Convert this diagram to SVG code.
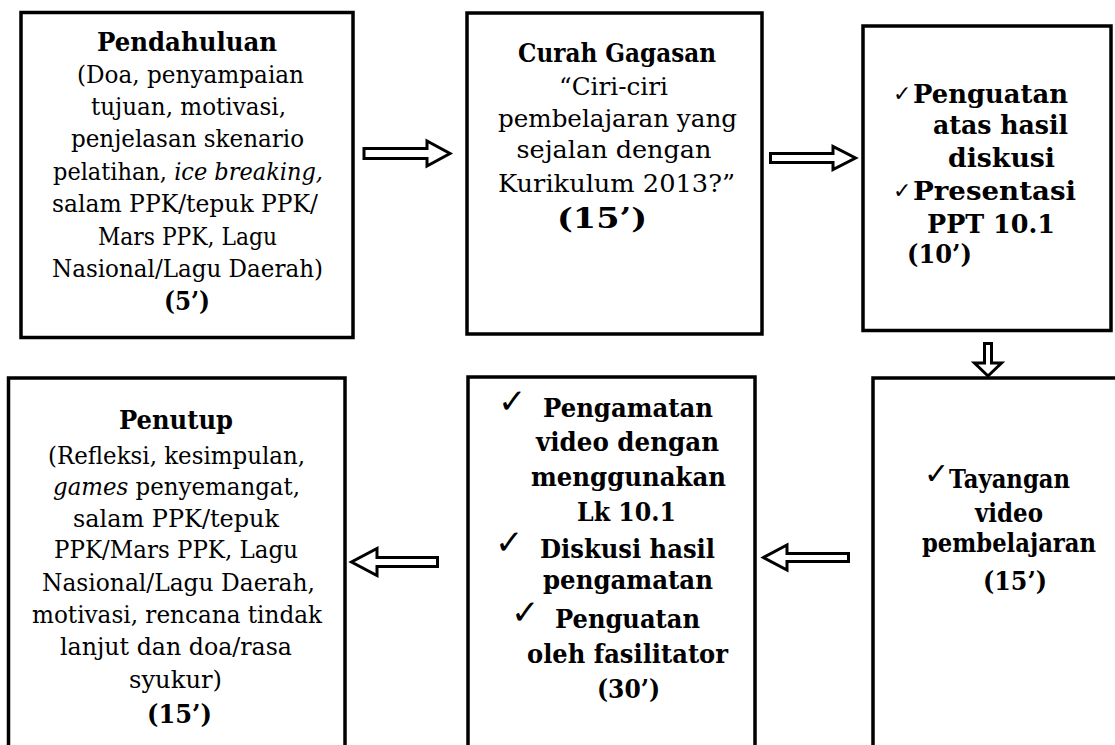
<svg xmlns="http://www.w3.org/2000/svg" width="1115" height="745" viewBox="0 0 1115 745">
<style>
.box{fill:#fff;stroke:#000;stroke-width:3.5}
.arr{fill:#fff;stroke:#000;stroke-width:3;stroke-linejoin:miter}
text{font-family:"DejaVu Serif","Liberation Serif",serif;fill:#000;font-size:24px}
.c{text-anchor:middle}
.b{font-weight:bold;font-size:26px}
.i{font-style:italic}
.ck{font-family:"DejaVu Sans","Liberation Sans",sans-serif;font-size:34px}
.ck3{font-family:"DejaVu Sans","Liberation Sans",sans-serif;font-size:22px}
</style>
<rect width="1115" height="745" fill="#fff"/>
<g id="n1">
<rect class="box" x="21" y="12.5" width="332" height="325"/>
<text class="c b" x="187" y="51" textLength="180" lengthAdjust="spacingAndGlyphs">Pendahuluan</text>
<text class="c" x="190.5" y="83" textLength="227" lengthAdjust="spacingAndGlyphs">(Doa, penyampaian</text>
<text class="c" x="188.5" y="115" textLength="195" lengthAdjust="spacingAndGlyphs">tujuan, motivasi,</text>
<text class="c" x="187.5" y="147" textLength="233" lengthAdjust="spacingAndGlyphs">penjelasan skenario</text>
<text class="c" x="188" y="180" textLength="270" lengthAdjust="spacingAndGlyphs">pelatihan, <tspan class="i">ice breaking,</tspan></text>
<text class="c" x="185" y="212" textLength="266" lengthAdjust="spacingAndGlyphs">salam PPK/tepuk PPK/</text>
<text class="c" x="187.5" y="245" textLength="179" lengthAdjust="spacingAndGlyphs">Mars PPK, Lagu</text>
<text class="c" x="187.5" y="277" textLength="271" lengthAdjust="spacingAndGlyphs">Nasional/Lagu Daerah)</text>
<text class="c b" x="187" y="310" textLength="46" lengthAdjust="spacingAndGlyphs">(5’)</text>
</g>
<g id="n2">
<rect class="box" x="467" y="13" width="295" height="321"/>
<text class="c b" x="617" y="62" textLength="198" lengthAdjust="spacingAndGlyphs">Curah Gagasan</text>
<text class="c" x="613.5" y="95" style="font-size:25px" textLength="109" lengthAdjust="spacingAndGlyphs">“Ciri-ciri</text>
<text class="c" x="617.5" y="127" style="font-size:25px" textLength="239" lengthAdjust="spacingAndGlyphs">pembelajaran yang</text>
<text class="c" x="614" y="158" style="font-size:25px" textLength="195" lengthAdjust="spacingAndGlyphs">sejalan dengan</text>
<text class="c" x="616.5" y="192" style="font-size:25px" textLength="237" lengthAdjust="spacingAndGlyphs">Kurikulum 2013?”</text>
<text class="c b" x="602" y="228" style="font-size:28px" textLength="90" lengthAdjust="spacingAndGlyphs">(15’)</text>
</g>
<g id="n3">
<rect class="box" x="863" y="26" width="248" height="304.5"/>
<text class="ck3" x="893" y="101">✓</text>
<text class="b" x="913" y="103" textLength="155" lengthAdjust="spacingAndGlyphs">Penguatan</text>
<text class="c b" x="1000.5" y="134" textLength="135" lengthAdjust="spacingAndGlyphs">atas hasil</text>
<text class="c b" x="1001.5" y="167" textLength="107" lengthAdjust="spacingAndGlyphs">diskusi</text>
<text class="ck3" x="893" y="198">✓</text>
<text class="b" x="913" y="200" textLength="163" lengthAdjust="spacingAndGlyphs">Presentasi</text>
<text class="c b" x="991" y="233" textLength="128" lengthAdjust="spacingAndGlyphs">PPT 10.1</text>
<text class="c b" x="939.5" y="263" textLength="65" lengthAdjust="spacingAndGlyphs">(10’)</text>
</g>
<g id="n4">
<rect class="box" x="873" y="378" width="300" height="420"/>
<text class="ck" x="924" y="484" style="font-size:30px">✓</text>
<text class="b" x="949" y="488" textLength="121" lengthAdjust="spacingAndGlyphs">Tayangan</text>
<text class="c b" x="1009" y="522" textLength="68" lengthAdjust="spacingAndGlyphs">video</text>
<text class="c b" x="1009" y="552" textLength="174" lengthAdjust="spacingAndGlyphs">pembelajaran</text>
<text class="c b" x="1015" y="590" textLength="64" lengthAdjust="spacingAndGlyphs">(15’)</text>
</g>
<g id="n5">
<rect class="box" x="468" y="377" width="287" height="420"/>
<text class="ck" x="498" y="413">✓</text>
<text class="c b" x="628" y="417" textLength="170" lengthAdjust="spacingAndGlyphs">Pengamatan</text>
<text class="c b" x="627.5" y="451" textLength="183" lengthAdjust="spacingAndGlyphs">video dengan</text>
<text class="c b" x="628.5" y="486" textLength="195" lengthAdjust="spacingAndGlyphs">menggunakan</text>
<text class="c b" x="626.5" y="521" textLength="99" lengthAdjust="spacingAndGlyphs">Lk 10.1</text>
<text class="ck" x="495" y="554">✓</text>
<text class="c b" x="627.5" y="558" textLength="175" lengthAdjust="spacingAndGlyphs">Diskusi hasil</text>
<text class="c b" x="628" y="589" textLength="170" lengthAdjust="spacingAndGlyphs">pengamatan</text>
<text class="ck" x="511" y="624">✓</text>
<text class="c b" x="627.5" y="628" textLength="145" lengthAdjust="spacingAndGlyphs">Penguatan</text>
<text class="c b" x="627.5" y="663" textLength="201" lengthAdjust="spacingAndGlyphs">oleh fasilitator</text>
<text class="c b" x="628.5" y="698" textLength="63" lengthAdjust="spacingAndGlyphs">(30’)</text>
</g>
<g id="n6">
<rect class="box" x="8.5" y="378" width="336.5" height="420"/>
<text class="c b" x="176" y="429" textLength="114" lengthAdjust="spacingAndGlyphs">Penutup</text>
<text class="c" x="176.5" y="464" textLength="257" lengthAdjust="spacingAndGlyphs">(Refleksi, kesimpulan,</text>
<text class="c" x="176.5" y="495" textLength="247" lengthAdjust="spacingAndGlyphs"><tspan class="i">games</tspan> penyemangat,</text>
<text class="c" x="176" y="527" textLength="206" lengthAdjust="spacingAndGlyphs">salam PPK/tepuk</text>
<text class="c" x="176" y="558" textLength="244" lengthAdjust="spacingAndGlyphs">PPK/Mars PPK, Lagu</text>
<text class="c" x="178.5" y="591" textLength="273" lengthAdjust="spacingAndGlyphs">Nasional/Lagu Daerah,</text>
<text class="c" x="177" y="623" textLength="290" lengthAdjust="spacingAndGlyphs">motivasi, rencana tindak</text>
<text class="c" x="176" y="655" textLength="232" lengthAdjust="spacingAndGlyphs">lanjut dan doa/rasa</text>
<text class="c" x="175.5" y="688" textLength="93" lengthAdjust="spacingAndGlyphs">syukur)</text>
<text class="c b" x="179.5" y="723" textLength="65" lengthAdjust="spacingAndGlyphs">(15’)</text>
</g>
<g id="connectors">
<polygon class="arr" points="364,148.5 427,148.5 427,141 450,153.5 427,166 427,158.5 364,158.5"/>
<polygon class="arr" points="770.5,153.5 833,153.5 833,146.5 855.5,158 833,169.5 833,162.5 770.5,162.5"/>
<polygon class="arr" points="984.5,343.5 991.5,343.5 991.5,363 1001.5,363 988,376 974.5,363 984.5,363"/>
<polygon class="arr" points="437.5,557.5 377,557.5 377,548.5 351.5,562 377,575.5 377,566.5 437.5,566.5"/>
<polygon class="arr" points="848.5,553.5 787,553.5 787,545 763.5,557.5 787,570 787,561.5 848.5,561.5"/>
</g>
</svg>
